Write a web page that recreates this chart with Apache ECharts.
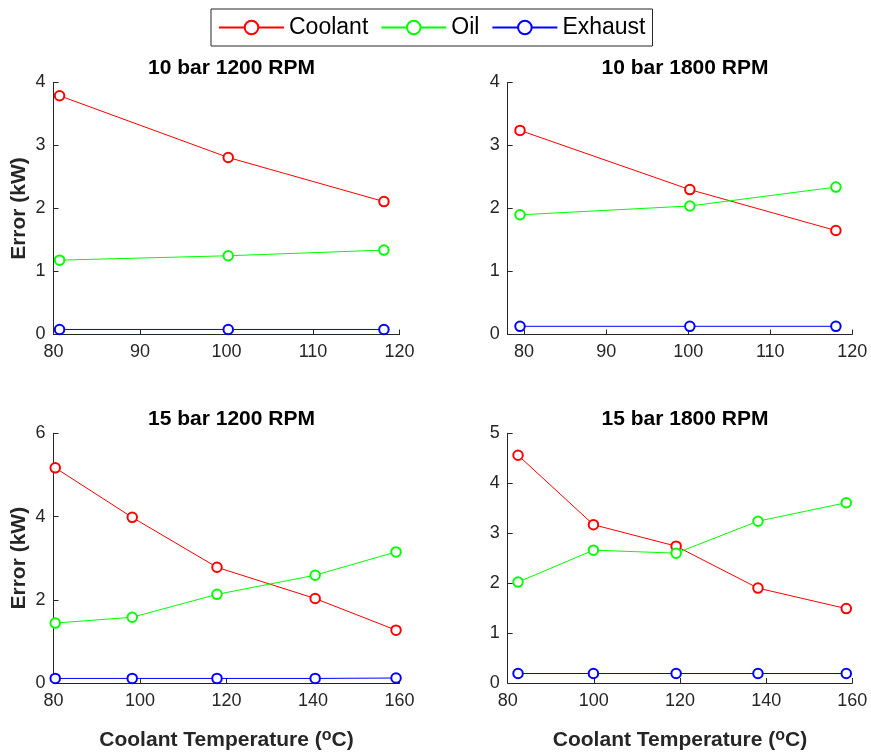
<!DOCTYPE html>
<html>
<head>
<meta charset="utf-8">
<script src="https://cdn.jsdelivr.net/npm/echarts@6/dist/echarts.min.js"></script>
<style>html,body{margin:0;padding:0;background:#fff}#c{width:871px;height:753px}</style>
</head>
<body>
<div id="c"></div>
<script>
// ---- data ----
const seriesNames = ['Coolant', 'Oil', 'Exhaust'];
const panelTitles = ['10 bar 1200 RPM', '10 bar 1800 RPM', '15 bar 1200 RPM', '15 bar 1800 RPM'];

const tl_x = [80.7, 100.2, 118.2];
const tl_coolant = [3.79, 2.81, 2.11];
const tl_oil = [1.18, 1.25, 1.34];
const tl_exhaust = [0.08, 0.08, 0.08];

const tr_x = [79.5, 100.2, 118.0];
const tr_coolant = [3.24, 2.30, 1.65];
const tr_oil = [1.90, 2.04, 2.34];
const tr_exhaust = [0.13, 0.13, 0.13];

const bl_x = [80.4, 98.2, 117.8, 140.5, 159.2];
const bl_coolant = [5.17, 3.98, 2.78, 2.03, 1.27];
const bl_oil = [1.44, 1.58, 2.13, 2.59, 3.15];
const bl_exhaust = [0.11, 0.11, 0.11, 0.11, 0.12];

const br_x = [82.4, 99.9, 119.1, 138.1, 158.6];
const br_coolant = [4.56, 3.17, 2.74, 1.90, 1.49];
const br_oil = [2.02, 2.66, 2.60, 3.24, 3.61];
const br_exhaust = [0.19, 0.19, 0.19, 0.19, 0.19];

const tlTicksX = [80, 90, 100, 110, 120];
const blTicksX = [80, 100, 120, 140, 160];

// ---- chart ----
const FONT = "'Liberation Sans', Arial, Helvetica, sans-serif";
const colors = ['#ff0000', '#00ff00', '#0000ff'];
const panels = [
  {x: tl_x, ys: [tl_coolant, tl_oil, tl_exhaust], xmin: 80, xmax: 120, xticks: tlTicksX, ymax: 4, yint: 1, grid: {left: 53.5, top: 82.5, width: 346, height: 252}, ylabel: true, xlabel: false},
  {x: tr_x, ys: [tr_coolant, tr_oil, tr_exhaust], xmin: 78, xmax: 120, xticks: tlTicksX, ymax: 4, yint: 1, grid: {left: 507.7, top: 82.5, width: 344.6, height: 252}, ylabel: false, xlabel: false},
  {x: bl_x, ys: [bl_coolant, bl_oil, bl_exhaust], xmin: 80, xmax: 160, xticks: blTicksX, ymax: 6, yint: 2, grid: {left: 53.5, top: 433.3, width: 346, height: 250.7}, ylabel: true, xlabel: true},
  {x: br_x, ys: [br_coolant, br_oil, br_exhaust], xmin: 80, xmax: 160, xticks: blTicksX, ymax: 5, yint: 1, grid: {left: 507.7, top: 433.3, width: 344.6, height: 250.7}, ylabel: false, xlabel: true}
];

const grids = [], xAxes = [], yAxes = [], series = [], titles = [];
const axisCommon = {
  axisLine: {show: true, lineStyle: {color: '#262626', width: 1}},
  axisTick: {show: true, inside: true, length: 5, lineStyle: {color: '#262626'}},
  axisLabel: {color: '#262626', fontSize: 18, fontFamily: FONT, margin: 8},
  splitLine: {show: false}
};
panels.forEach((p, i) => {
  grids.push(Object.assign({containLabel: false}, p.grid));
  titles.push({
    text: panelTitles[i],
    left: p.grid.left + p.grid.width / 2,
    top: p.grid.top - 30,
    textAlign: 'center',
    textStyle: {fontSize: 21, fontWeight: 'bold', color: '#000', fontFamily: FONT}
  });
  xAxes.push({
    type: 'value', gridIndex: i, min: p.xmin, max: p.xmax,
    axisLine: axisCommon.axisLine,
    axisTick: Object.assign({}, axisCommon.axisTick, {customValues: p.xticks}),
    axisLabel: Object.assign({}, axisCommon.axisLabel, {customValues: p.xticks, margin: 9}),
    splitLine: {show: false},
    name: p.xlabel ? 'Coolant Temperature ({sup|o}C)' : '',
    nameLocation: 'middle', nameGap: 45,
    nameTextStyle: {fontSize: 21, fontWeight: 'bold', color: '#262626', fontFamily: FONT, lineHeight: 24,
      rich: {sup: {fontSize: 16, fontWeight: 'bold', color: '#262626', fontFamily: FONT, verticalAlign: 'top', lineHeight: 9}}}
  });
  yAxes.push({
    type: 'value', gridIndex: i, min: 0, max: p.ymax, interval: p.yint,
    axisLine: axisCommon.axisLine,
    axisTick: axisCommon.axisTick,
    axisLabel: axisCommon.axisLabel,
    splitLine: {show: false},
    name: p.ylabel ? 'Error (kW)' : '',
    nameLocation: 'middle', nameGap: 24, nameRotate: 90,
    nameTextStyle: {fontSize: 21, fontWeight: 'bold', color: '#262626', fontFamily: FONT}
  });
  p.ys.forEach((ys, k) => {
    series.push({
      name: seriesNames[k], type: 'line', xAxisIndex: i, yAxisIndex: i,
      data: p.x.map((xv, j) => [xv, ys[j]]),
      symbol: 'emptyCircle', symbolSize: 9.5,
      lineStyle: {color: colors[k], width: 1},
      itemStyle: {color: colors[k], borderColor: colors[k], borderWidth: 1},
      emphasis: {disabled: true},
      animation: false
    });
  });
});

const chart = echarts.init(document.getElementById('c'), null, {renderer: 'canvas'});
chart.setOption({
  backgroundColor: '#fff',
  animation: false,
  title: titles,
  legend: {
    data: seriesNames,
    left: 211, top: 9,
    padding: [7, 7],
    itemGap: 12,
    itemWidth: 65, itemHeight: 17,
    borderColor: '#262626', borderWidth: 1, borderRadius: 0,
    backgroundColor: '#fff',
    textStyle: {fontSize: 23, color: '#000', fontFamily: FONT}
  },
  grid: grids,
  xAxis: xAxes,
  yAxis: yAxes,
  series: series
});
</script>
</body>
</html>
